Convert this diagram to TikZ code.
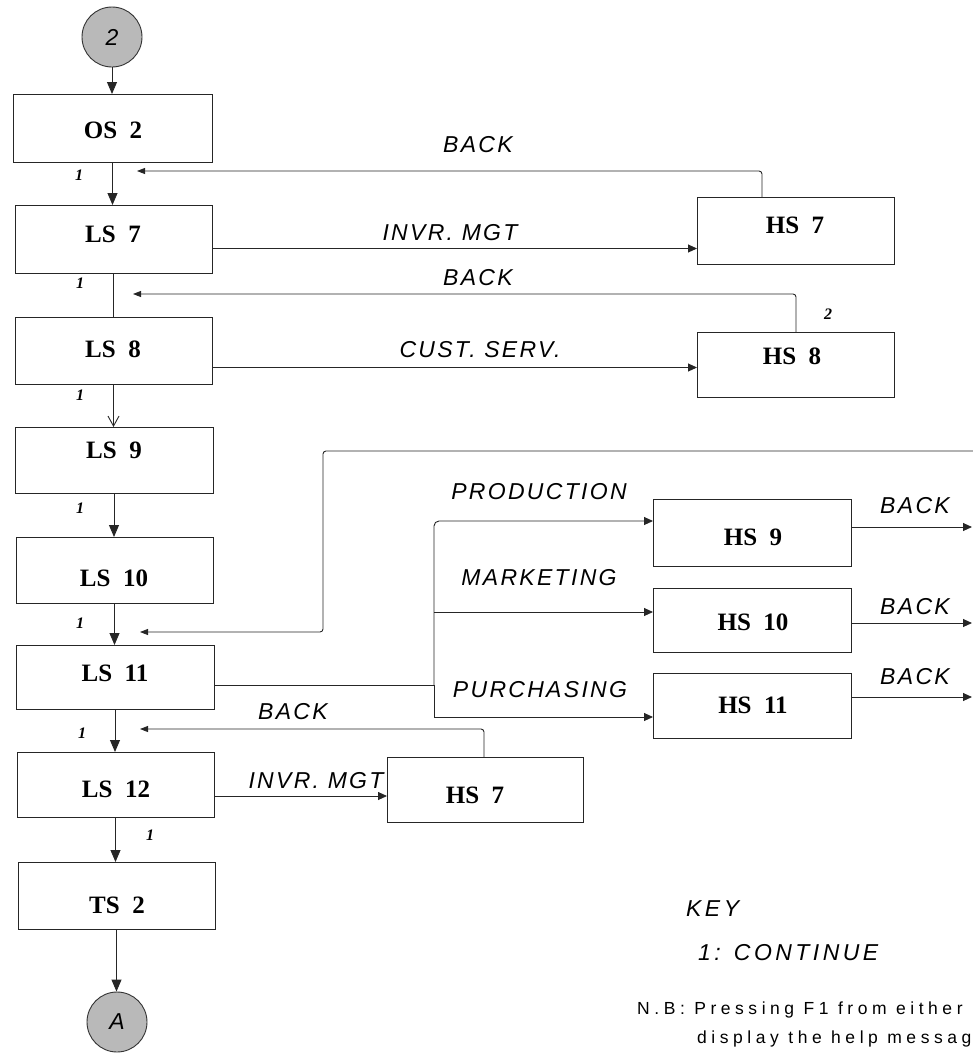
\documentclass[tikz,border=0pt]{standalone}
\usepackage{fontspec}
\setmainfont{Liberation Serif}
\newfontfamily\lblfont[LetterSpace=10]{Liberation Sans}
\newfontfamily\keyfont[LetterSpace=15]{Liberation Sans}
\newfontfamily\nbfont[LetterSpace=26]{Liberation Sans}
\usetikzlibrary{arrows.meta,fit}
\tikzset{
  box/.style={draw=black!85, line width=1pt, inner sep=0pt, outer sep=0pt},
  boxtxt/.style={inner sep=0pt, font=\bfseries\fontsize{25}{25}\selectfont},
  lbl/.style={inner sep=0pt, font=\lblfont\itshape\fontsize{23}{23}\selectfont},
  num/.style={inner sep=0pt, font=\bfseries\itshape\fontsize{16}{16}\selectfont},
  conn/.style={draw=black!85, line width=0.9pt},
  varr/.style={conn, -{Triangle[length=12pt,width=10pt]}},
  oarr/.style={conn, -{Straight Barb[length=10pt,width=11pt]}},
  harr/.style={conn, -{Triangle[length=9pt,width=8pt]}},
  barr/.style={conn, rounded corners=3pt, -{Triangle[length=8pt,width=6pt]}},
  term/.style={circle, draw=black!80, line width=0.9pt, fill=gray!55, minimum size=60pt, inner sep=0pt,
     font=\lblfont\itshape\fontsize{23}{23}\selectfont},
}
\begin{document}
\begin{tikzpicture}[x=1pt,y=-1pt]
\useasboundingbox (0,0) rectangle (973,1055);

% terminals
\node[term] (c2) at (112,37) {2};
\node[term] (cA) at (117,1022) {A};

% left column boxes
\node[box, fit={(13,94)(212,162)}] (os2) {};
\node[box, fit={(15,205)(212,273)}] (ls7) {};
\node[box, fit={(15,317)(212,384)}] (ls8) {};
\node[box, fit={(15,427)(213,493)}] (ls9) {};
\node[box, fit={(16,537)(213,603)}] (ls10) {};
\node[box, fit={(16,645)(214,709)}] (ls11) {};
\node[box, fit={(17,752)(214,817)}] (ls12) {};
\node[box, fit={(18,862)(215,929)}] (ts2) {};

\node[boxtxt] (os2t) at (113,130) {OS~~2};
\node[boxtxt] (ls7t) at (113,234) {LS~~7};
\node[boxtxt] (ls8t) at (113,349) {LS~~8};
\node[boxtxt] (ls9t) at (114,450) {LS~~9};
\node[boxtxt] (ls10t) at (114,578) {LS~~10};
\node[boxtxt] (ls11t) at (115,673) {LS~~11};
\node[boxtxt] (ls12t) at (116,789) {LS~~12};
\node[boxtxt] (ts2t) at (117,905) {TS~~2};

% right boxes
\node[box, fit={(697,197)(894,264)}] (hs7) {};
\node[box, fit={(697,332)(894,397)}] (hs8) {};
\node[box, fit={(653,499)(851,566)}] (hs9) {};
\node[box, fit={(653,588)(851,652)}] (hs10) {};
\node[box, fit={(653,673)(851,738)}] (hs11) {};
\node[box, fit={(387,757)(583,822)}] (hs7b) {};

\node[boxtxt] (hs7t) at (795,225) {HS~~7};
\node[boxtxt] (hs8t) at (792,356) {HS~~8};
\node[boxtxt] (hs9t) at (753,537) {HS~~9};
\node[boxtxt] (hs10t) at (753,622) {HS~~10};
\node[boxtxt] (hs11t) at (753,705) {HS~~11};
\node[boxtxt] (hs7bt) at (475,795) {HS~~7};

% helper coordinates
\coordinate (y248) at (0,248.5);
\coordinate (y367) at (0,367.5);
\coordinate (y521) at (0,521);
\coordinate (y612) at (0,612);
\coordinate (y717) at (0,717);
\coordinate (y796) at (0,796);
\coordinate (x762) at (762,0);
\coordinate (x796) at (796,0);
\coordinate (x484) at (484,0);
\coordinate (b1tip) at (137,171);
\coordinate (b2tip) at (133,294);
\coordinate (b3tip) at (140,632);
\coordinate (b4tip) at (140,729);
\coordinate (loopstart) at (973,451);
\coordinate (lc) at (323,632);
\coordinate (jn) at (434,685);
\coordinate (r9) at (972,527);
\coordinate (r10) at (972,623);
\coordinate (r11) at (972,697);

% vertical flow
\draw[varr] (c2.south) -- (c2.south |- os2.north);
\draw[varr] (os2.south) -- (os2.south |- ls7.north);
\draw[conn] (ls7.south) -- (ls7.south |- ls8.north);
\draw[oarr] (ls8.south) -- (ls8.south |- ls9.north);
\draw[varr] (ls9.south) -- (ls9.south |- ls10.north);
\draw[varr] (ls10.south) -- (ls10.south |- ls11.north);
\draw[varr] (ls11.south) -- (ls11.south |- ls12.north);
\draw[varr] (ls12.south) -- (ls12.south |- ts2.north);
\draw[varr] (ts2.south) -- (ts2.south |- cA.north);

% help screens top
\draw[harr] (ls7.east |- y248) -- (hs7.west |- y248);
\draw[barr] (hs7.north -| x762) |- (b1tip);
\draw[harr] (ls8.east |- y367) -- (hs8.west |- y367);
\draw[barr] (hs8.north -| x796) |- (b2tip);

% LS 11 branches
\draw[conn] (ls11.east |- jn) -- (jn);
\draw[harr, rounded corners=5pt] (jn) |- (hs9.west |- y521);
\draw[harr] (jn |- y612) -- (hs10.west |- y612);
\draw[harr] (jn) |- (hs11.west |- y717);
\draw[barr] (loopstart) -| (lc) -- (b3tip);
\draw[harr] (hs9.east |- r9) -- (r9);
\draw[harr] (hs10.east |- r10) -- (r10);
\draw[harr] (hs11.east |- r11) -- (r11);

% LS 12 help
\draw[harr] (ls12.east |- y796) -- (hs7b.west |- y796);
\draw[barr] (hs7b.north -| x484) |- (b4tip);

% labels
\node[lbl] (l1) at (478,145) {BACK};
\node[lbl] (l2) at (450,233) {INVR. MGT};
\node[lbl] (l3) at (478,278) {BACK};
\node[lbl] (l4) at (480,350) {CUST. SERV.};
\node[lbl] (l5) at (539,492) {PRODUCTION};
\node[lbl] (l6) at (539,578) {MARKETING};
\node[lbl] (l7) at (540,690) {PURCHASING};
\node[lbl] (l8) at (915,506) {BACK};
\node[lbl] (l9) at (915,607) {BACK};
\node[lbl] (l10) at (915,677) {BACK};
\node[lbl] (l11) at (293,712) {BACK};
\node[lbl] (l12) at (316,781) {INVR. MGT};

\node[num] (n1) at (79,175) {1};
\node[num] (n2) at (80,283) {1};
\node[num] (n3) at (80,395) {1};
\node[num] (n4) at (80,508) {1};
\node[num] (n5) at (80,623) {1};
\node[num] (n6) at (82,733) {1};
\node[num] (n7) at (150,835) {1};
\node[num] (n8) at (828,314) {2};

% key
\node[inner sep=0pt, anchor=west, font=\keyfont\itshape\fontsize{23}{23}\selectfont] (key) at (686,909) {KEY};
\node[inner sep=0pt, anchor=west, font=\keyfont\itshape\fontsize{23}{23}\selectfont] (key1) at (698,953) {1: CONTINUE};
\node[inner sep=0pt, anchor=west, font=\nbfont\fontsize{17.5}{17.5}\selectfont] (nb1) at (637,1010) {N.B: Pressing F1 from either};
\node[inner sep=0pt, anchor=west, font=\nbfont\fontsize{17.5}{17.5}\selectfont] (nb2) at (697,1039) {display the help messag};
\end{tikzpicture}
\end{document}
